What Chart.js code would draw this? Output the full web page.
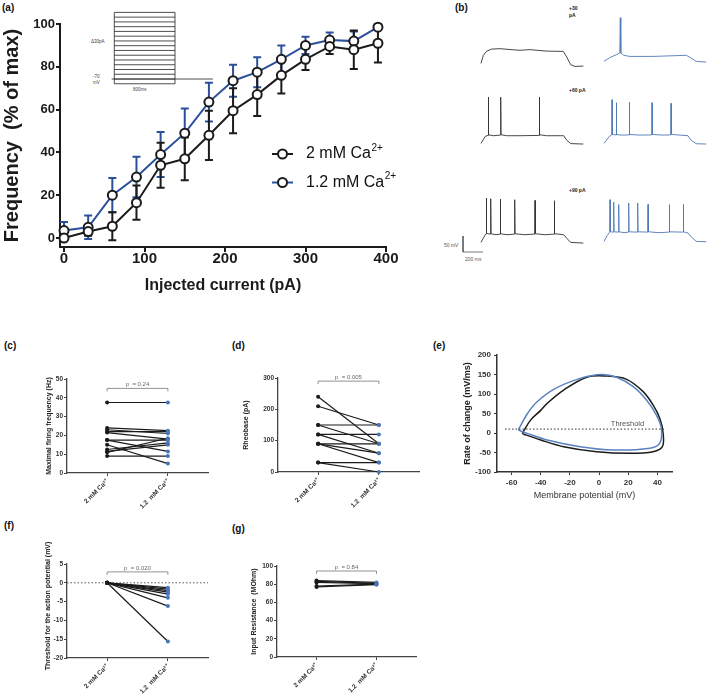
<!DOCTYPE html>
<html>
<head>
<meta charset="utf-8">
<title>Firing in 2 mM vs 1.2 mM Ca</title>
<script src="https://cdn.jsdelivr.net/npm/chart.js@4.4.1/dist/chart.umd.min.js"></script>
<style>
  html, body { margin: 0; padding: 0; background: #fff; }
  body { position: relative; width: 709px; height: 699px; overflow: hidden; font-family: "Liberation Sans", Arial, sans-serif; }
  canvas { position: absolute; }
  .txt { position: absolute; white-space: nowrap; line-height: 1; color: #333; }
  .panel { font-size: 10px; font-weight: bold; color: #111; }
  .proto { font-size: 4.5px; color: #444; }
  .step { font-size: 5px; font-weight: bold; color: #222; }
  .bar { font-size: 5px; color: #555; }
</style>
</head>
<body>
<div class="txt panel" style="left:2px;top:3px">(a)</div>
<div class="txt panel" style="left:455px;top:3px">(b)</div>
<div class="txt panel" style="left:4px;top:341px">(c)</div>
<div class="txt panel" style="left:232px;top:341px">(d)</div>
<div class="txt panel" style="left:433px;top:341px">(e)</div>
<div class="txt panel" style="left:4px;top:521px">(f)</div>
<div class="txt panel" style="left:232px;top:524px">(g)</div>

<div class="txt proto" style="left:91px;top:40px">&Delta;30pA</div>
<div class="txt proto" style="left:93px;top:75px">-70</div>
<div class="txt proto" style="left:93px;top:81px">mV</div>
<div class="txt proto" style="left:133px;top:88px">800ms</div>

<div class="txt step" style="left:569px;top:6px">+30</div>
<div class="txt step" style="left:569px;top:13px">pA</div>
<div class="txt step" style="left:569px;top:88px">+60 pA</div>
<div class="txt step" style="left:569px;top:188px">+90 pA</div>
<div class="txt bar" style="left:444px;top:243px">50 mV</div>
<div class="txt bar" style="left:465px;top:257px">200 ms</div>

<script>
// ---------- (a) firing frequency vs injected current ----------
const CURRENTS = [0, 30, 60, 90, 120, 150, 180, 210, 240, 270, 300, 330, 360, 390];
const FREQ_2MM = [0, 3, 5.5, 16.5, 34, 37, 48, 59.5, 67, 76, 83.5, 89.5, 88, 91];
const FREQ_2MM_ERR = [0, 2, 6.5, 8, 10.5, 10, 11.5, 10.5, 10, 8.5, 5, 3.5, 9, 9];
const FREQ_12MM = [3.5, 5, 20, 28.5, 39, 49, 63.5, 73.5, 77.5, 83.5, 90, 92.5, 92, 98.5];
const FREQ_12MM_ERR = [4, 5.5, 8, 9.5, 10.5, 11.5, 9, 7.5, 7, 6.5, 4, 3.5, 4.5, 1];
const SERIES_NAMES = ['2 mM Ca', '1.2 mM Ca'];
const ION_CHARGE = '2+';
const X_TICKS_A = [0, 100, 200, 300, 400];
const Y_TICKS_A = [0, 20, 40, 60, 80, 100];

// current step protocol (pA levels, ms)
const STEP_LEVELS = [-30, 0, 30, 60, 90, 120, 150, 180, 210, 240, 270, 300, 330, 360, 390, 420];
const STEP_WINDOW = [0, 800];
const HOLD_WINDOW = [-35, 1300];

// ---------- (b) example traces, [ms, mV] ----------
const TRACE_30_2MM = [[0,-70],[23,-45],[57,-31.6],[107,-25.3],[190,-24],[300,-27],[390,-29],[490,-27],[657,-31.6],[823,-32.5],[857,-50],[897,-74],[940,-79.4],[1023,-78.4]];
const TRACE_30_12MM = [[0,-70],[57,-58.3],[123,-49],[158,-44],[163,66.5],[168,-44],[197,-51],[257,-54.4],[490,-54.4],[823,-51],[863,-58],[923,-70],[1023,-72]];
const TRACE_60_2MM = [[0,-70],[43,-48],[70,-45],[73,74.7],[77,-43],[123,-46],[194,-44],[197,74.7],[201,-43],[257,-46],[390,-46],[580,-45],[583,74.7],[587,-43],[657,-46],[827,-46],[860,-61],[897,-70.6],[1023,-72]];
const TRACE_60_12MM = [[0,-70],[53,-48],[77,-43.5],[80,66.5],[84,-42],[120,-43.5],[123,57],[127,-42],[170,-44],[250,-43.5],[253,59],[257,-42],[350,-44],[477,-43.5],[480,57],[484,-42],[580,-44],[667,-43.5],[670,55],[674,-42],[760,-44],[840,-46],[873,-60.6],[923,-71],[1023,-72]];
const TRACE_90_2MM = [[0,-70],[37,-49],[50,-43],[53,68.5],[57,-42],[94,-44],[97,66.5],[101,-43],[150,-46],[190,-44],[193,65.3],[197,-43],[260,-46],[334,-44],[337,63.4],[341,-43],[440,-46],[537,-44],[540,61],[544,-43],[640,-46],[730,-44],[733,60.3],[737,-43],[827,-46],[860,-58],[897,-70],[1023,-72]];
const TRACE_90_12MM = [[0,-70],[33,-51],[57,-41],[60,60.3],[64,-40],[94,-41],[97,52.8],[101,-40],[144,-41],[147,45.6],[151,-40],[200,-42.8],[244,-41],[247,49.7],[251,-40],[334,-41],[337,49.7],[341,-40],[437,-41],[440,45.6],[444,-40],[550,-42.8],[650,-41],[653,45],[657,-40],[790,-41],[793,45.6],[797,-40],[840,-44],[873,-56],[923,-70],[1023,-71]];
const SCALE_MS = 200;
const SCALE_MV = 50;

// ---------- (c)-(g) paired recordings ----------
const CONDITIONS = ['2 mM Ca\u00b2\u207a', '1.2  mM Ca\u00b2\u207a'];
const MAX_FREQ_PAIRS = [[37.5,37.5],[24,22.5],[23,21],[22,22],[21.5,18],[17.5,17.5],[17.5,11.5],[15,5],[12.5,16],[11.5,15],[11,18.5],[9,9]];
const RHEOBASE_PAIRS = [[240,90],[210,150],[150,150],[150,90],[120,120],[120,60],[90,90],[90,60],[90,30],[30,30],[30,0]];
const THRESHOLD_PAIRS = [[0,-1.3],[0,-1.7],[0,-2.1],[0,-2.5],[0,-3],[0,-4],[0,-6.2],[0,-15.6]];
const RESISTANCE_PAIRS = [[84,82],[83,81],[82,80.5],[78,80],[77,79.5]];
const P_VALUES = ['p  = 0.24', 'p  = 0.005', 'p  = 0.020', 'p  = 0.84'];

// phase plot (e): membrane potential (mV) vs dV/dt (mV/ms)
const PHASE_V_2MM = [-52.7,-47,-40,-35.6,-24.3,-8.4,5.2,18.9,30.2,37,41.6,43.9,43.4,37,21,-1.6,-24.3,-40,-51.6,-52.7];
const PHASE_DVDT_2MM = [-1,33,58,76,110,143,146,137.6,106,72,37.6,0,-35,-48,-52,-48,-35,-18,-3,-1];
const PHASE_V_12MM = [-55.4,-49.3,-42.5,-31.1,-13,1.8,12,23.4,32.5,39.3,42.7,41.6,34.8,9.8,-13,-35.6,-49.3,-55.4];
const PHASE_DVDT_12MM = [7.7,48.7,80,112,140,150,143,119,84.6,46,12,-26,-39,-43.6,-35,-18,-1,7.7];
const THRESHOLD_LEVEL = 10;
const THRESHOLD_SPAN = [-64.5, 46];

const FONT = '"Liberation Sans", Arial, sans-serif';
const BLACK = '#1b1b1b';
const BLUE = '#2c4f9c';
const TRACE_BLACK = '#333';
const TRACE_BLUE = '#5079b8';
const DOT_BLUE = '#4a74b8';
const AXIS_GREY = '#444';

Chart.defaults.font.family = FONT;

function makeCanvas(left, top, w, h) {
    const c = document.createElement('canvas');
    c.width = w;
    c.height = h;
    c.style.left = left + 'px';
    c.style.top = top + 'px';
    c.style.width = w + 'px';
    c.style.height = h + 'px';
    document.body.appendChild(c);
    return c;
}

function base(padding) {
    return {
        responsive: false,
        animation: false,
        devicePixelRatio: 1,
        events: [],
        layout: { padding, autoPadding: false },
    };
}

const fixedTicks = list => scale => { scale.ticks = list.map(value => ({ value })); };

// error bars for (a), drawn under the markers
const errorBars = {
    id: 'errorBars',
    beforeDatasetsDraw(chart) {
        const { ctx, scales: { x, y } } = chart;
        for (const ds of [...chart.data.datasets].reverse()) {
            if (!ds.errors) continue;
            ctx.save();
            ctx.strokeStyle = ds.borderColor;
            ctx.lineWidth = 2;
            ds.data.forEach((p, i) => {
                const e = ds.errors[i];
                if (!e) return;
                const px = x.getPixelForValue(p.x);
                const top = y.getPixelForValue(p.y + e);
                const bot = y.getPixelForValue(p.y - e);
                ctx.beginPath();
                ctx.moveTo(px, top); ctx.lineTo(px, bot);
                ctx.moveTo(px - 4, top); ctx.lineTo(px + 4, top);
                ctx.moveTo(px - 4, bot); ctx.lineTo(px + 4, bot);
                ctx.stroke();
            });
            ctx.restore();
        }
    }
};

// legend of (a) with superscript charge
const curveLegend = {
    id: 'curveLegend',
    afterDraw(chart) {
        const ctx = chart.ctx;
        chart.data.datasets.forEach((ds, i) => {
            const y = 154 + i * 28.5;
            ctx.save();
            ctx.lineWidth = 2;
            ctx.strokeStyle = ds.borderColor;
            ctx.beginPath(); ctx.moveTo(272, y); ctx.lineTo(293, y); ctx.stroke();
            ctx.beginPath(); ctx.arc(282.5, y, 4.5, 0, Math.PI * 2);
            ctx.fillStyle = '#fff'; ctx.fill();
            ctx.strokeStyle = BLACK; ctx.stroke();
            ctx.fillStyle = '#111';
            ctx.textBaseline = 'middle';
            ctx.font = '16px ' + FONT;
            ctx.fillText(ds.label, 306, y);
            const w = ctx.measureText(ds.label).width;
            ctx.font = '10px ' + FONT;
            ctx.fillText(ION_CHARGE, 306 + w + 0.5, y - 6);
            ctx.restore();
        });
    }
};

// p-value bracket between the two conditions
const pBracket = {
    id: 'pBracket',
    afterDraw(chart, args, opts) {
        if (!opts.text) return;
        const { ctx, scales: { x, y } } = chart;
        const x0 = x.getPixelForValue(0), x1 = x.getPixelForValue(1), yy = y.getPixelForValue(opts.at);
        ctx.save();
        ctx.strokeStyle = '#777';
        ctx.lineWidth = 0.8;
        ctx.beginPath();
        ctx.moveTo(x0, yy + 3); ctx.lineTo(x0, yy); ctx.lineTo(x1, yy); ctx.lineTo(x1, yy + 3);
        ctx.stroke();
        ctx.fillStyle = '#666';
        ctx.font = '6px ' + FONT;
        ctx.textAlign = 'center';
        ctx.textBaseline = 'bottom';
        ctx.fillText(opts.text, (x0 + x1) / 2, yy - 1);
        ctx.restore();
    }
};

// rotated y title that is not squeezed to the axis height
const yTitle = {
    id: 'yTitle',
    afterDraw(chart, args, opts) {
        if (!opts.text) return;
        const { ctx, chartArea } = chart;
        ctx.save();
        ctx.translate(opts.x, (chartArea.top + chartArea.bottom) / 2 + (opts.shift || 0));
        ctx.rotate(-Math.PI / 2);
        ctx.fillStyle = '#222';
        ctx.font = 'bold 7px ' + FONT;
        ctx.textAlign = 'center';
        ctx.textBaseline = 'middle';
        ctx.fillText(opts.text, 0, 0);
        ctx.restore();
    }
};

// dotted horizontal reference line
const refLine = {
    id: 'refLine',
    beforeDatasetsDraw(chart, args, opts) {
        if (opts.value === undefined) return;
        const { ctx, chartArea, scales: { y } } = chart;
        const yy = y.getPixelForValue(opts.value);
        ctx.save();
        ctx.strokeStyle = '#555';
        ctx.lineWidth = 1;
        ctx.setLineDash([1.5, 2]);
        ctx.beginPath(); ctx.moveTo(chartArea.left, yy); ctx.lineTo(chartArea.right, yy); ctx.stroke();
        ctx.restore();
    }
};

// small text note placed at data coordinates
const note = {
    id: 'note',
    afterDraw(chart, args, opts) {
        if (!opts.text) return;
        const { ctx, scales: { x, y } } = chart;
        ctx.save();
        ctx.fillStyle = '#555';
        ctx.font = '7.5px ' + FONT;
        ctx.textAlign = 'center';
        ctx.textBaseline = 'bottom';
        ctx.fillText(opts.text, x.getPixelForValue(opts.x), y.getPixelForValue(opts.y) - 1);
        ctx.restore();
    }
};

function curve(values, errors, colour, label) {
    return {
        label,
        data: CURRENTS.map((x, i) => ({ x, y: values[i] })),
        errors,
        borderColor: colour,
        borderWidth: 2,
        pointRadius: 4.5,
        pointBorderWidth: 2,
        pointBorderColor: BLACK,
        pointBackgroundColor: '#fff',
        tension: 0,
        clip: false,
    };
}

// ---------- (a) ----------
new Chart(makeCanvas(0, 0, 420, 300), {
    type: 'line',
    data: {
        datasets: [
            curve(FREQ_2MM, FREQ_2MM_ERR, BLACK, SERIES_NAMES[0]),
            curve(FREQ_12MM, FREQ_12MM_ERR, BLUE, SERIES_NAMES[1]),
        ]
    },
    options: {
        ...base({ top: 24, right: 34, left: 0, bottom: 0 }),
        plugins: { legend: { display: false }, tooltip: { enabled: false } },
        scales: {
            x: {
                type: 'linear', min: -5, max: 400,
                afterBuildTicks: fixedTicks(X_TICKS_A),
                afterFit: s => { s.height = 53; },
                border: { color: BLACK, width: 2 },
                grid: { drawOnChartArea: false, color: BLACK, lineWidth: 2, tickLength: 5 },
                ticks: { color: BLACK, padding: -2, maxRotation: 0, font: { size: 15, weight: 'bold' } },
                title: { display: true, text: 'Injected current (pA)', color: BLACK, font: { size: 16, weight: 'bold' }, padding: { top: 0, bottom: 5 } }
            },
            y: {
                type: 'linear', min: -4.2, max: 100,
                afterBuildTicks: fixedTicks(Y_TICKS_A),
                afterFit: s => { s.width = 60; },
                border: { color: BLACK, width: 2 },
                grid: { drawOnChartArea: false, color: BLACK, lineWidth: 2, tickLength: 4 },
                ticks: { color: BLACK, padding: 1, font: { size: 13, weight: 'bold' } },
                title: { display: true, text: 'Frequency  (% of max)', color: BLACK, font: { size: 20, weight: 'bold' }, padding: { top: 0, bottom: 0 } }
            }
        }
    },
    plugins: [errorBars, curveLegend]
});

// protocol inset
const TOP_LEVEL = STEP_LEVELS[STEP_LEVELS.length - 1];
const insetSets = STEP_LEVELS.map(level => ({ data: [{ x: STEP_WINDOW[0], y: level }, { x: STEP_WINDOW[1], y: level }] }));
STEP_WINDOW.forEach(t => insetSets.push({ data: [{ x: t, y: STEP_LEVELS[0] }, { x: t, y: TOP_LEVEL }] }));
insetSets.push({ data: [{ x: HOLD_WINDOW[0], y: 0 }, { x: HOLD_WINDOW[1], y: 0 }] });
new Chart(makeCanvas(111, 10, 104, 76), {
    type: 'scatter',
    data: { datasets: insetSets.map(d => ({ ...d, showLine: true, borderColor: '#222', borderWidth: 0.8, pointRadius: 0 })) },
    options: {
        ...base(0),
        plugins: { legend: { display: false }, tooltip: { enabled: false } },
        scales: {
            x: { type: 'linear', display: false, min: -43.5, max: 1327 },
            y: { type: 'linear', display: false, min: -44, max: 435 }
        }
    }
});

// ---------- (b) traces ----------
function traceChart(points, colour, left, top) {
    new Chart(makeCanvas(left, top, 108, 60), {
        type: 'scatter',
        data: { datasets: [{ data: points.map(([x, y]) => ({ x, y })), showLine: true, borderColor: colour, borderWidth: 0.9, pointRadius: 0, tension: 0 }] },
        options: {
            ...base(0),
            plugins: { legend: { display: false }, tooltip: { enabled: false } },
            scales: {
                x: { type: 'linear', display: false, min: -20, max: 1060 },
                y: { type: 'linear', display: false, min: -100, max: 87.5 }
            }
        }
    });
}
traceChart(TRACE_30_2MM, TRACE_BLACK, 479, 13);
traceChart(TRACE_30_12MM, TRACE_BLUE, 602, 11);
traceChart(TRACE_60_2MM, TRACE_BLACK, 479, 93);
traceChart(TRACE_60_12MM, TRACE_BLUE, 602, 93);
traceChart(TRACE_90_2MM, TRACE_BLACK, 479, 192);
traceChart(TRACE_90_12MM, TRACE_BLUE, 602, 191);

// scale bar
new Chart(makeCanvas(462, 235, 24, 19), {
    type: 'scatter',
    data: { datasets: [{ data: [{ x: 0, y: SCALE_MV }, { x: 0, y: 0 }, { x: SCALE_MS, y: 0 }], showLine: true, borderColor: '#555', borderWidth: 0.8, pointRadius: 0 }] },
    options: {
        ...base(0),
        plugins: { legend: { display: false }, tooltip: { enabled: false } },
        scales: {
            x: { type: 'linear', display: false, min: -10, max: 230 },
            y: { type: 'linear', display: false, min: -6.25, max: 53.125 }
        }
    }
});

// ---------- (c), (d), (f), (g) ----------
function pairedChart(p) {
    return new Chart(makeCanvas(p.left, p.top, p.width, p.height), {
        type: 'line',
        data: {
            datasets: p.pairs.map(pair => ({
                data: [{ x: 0, y: pair[0] }, { x: 1, y: pair[1] }],
                borderColor: BLACK,
                borderWidth: 1.2,
                pointRadius: 2,
                pointBorderWidth: 0,
                pointBackgroundColor: [BLACK, DOT_BLUE],
                clip: false,
            }))
        },
        options: {
            ...base(p.padding),
            plugins: {
                legend: { display: false },
                tooltip: { enabled: false },
                pBracket: { text: p.pText, at: p.pAt },
                yTitle: { text: p.title, x: p.titleX, shift: p.titleShift || 0 },
                refLine: { value: p.refValue },
            },
            scales: {
                x: {
                    type: 'linear', min: -0.66, max: 1.66,
                    afterBuildTicks: fixedTicks([0, 1]),
                    afterFit: s => { s.height = p.xHeight; },
                    border: { color: AXIS_GREY, width: 1.3 },
                    grid: { drawOnChartArea: false, color: AXIS_GREY, lineWidth: 1, tickLength: 3 },
                    ticks: { callback: v => CONDITIONS[v], autoSkip: false, minRotation: 45, maxRotation: 45, padding: 2, color: '#333', font: { size: 6.5, weight: 'bold' } }
                },
                y: {
                    type: 'linear', min: p.yTicks[0], max: p.yTicks[p.yTicks.length - 1],
                    afterBuildTicks: fixedTicks(p.yTicks),
                    afterFit: s => { s.width = p.yWidth; },
                    border: { color: AXIS_GREY, width: 1.3 },
                    grid: { drawOnChartArea: false, color: AXIS_GREY, lineWidth: 1, tickLength: 3 },
                    ticks: { padding: 1, color: '#333', font: { size: 6.5, weight: 'bold' } }
                }
            }
        },
        plugins: [refLine, pBracket, yTitle]
    });
}

pairedChart({
    left: 0, top: 360, width: 230, height: 150,
    padding: { top: 19, right: 22, left: 0, bottom: 0 }, yWidth: 67, xHeight: 37,
    pairs: MAX_FREQ_PAIRS, yTicks: [0, 10, 20, 30, 40, 50],
    title: 'Maximal firing frequency (Hz)', titleX: 49,
    pText: P_VALUES[0], pAt: 45
});

pairedChart({
    left: 230, top: 360, width: 230, height: 150,
    padding: { top: 18, right: 41, left: 0, bottom: 0 }, yWidth: 48, xHeight: 38,
    pairs: RHEOBASE_PAIRS, yTicks: [0, 100, 200, 300],
    title: 'Rheobase (pA)', titleX: 16,
    pText: P_VALUES[1], pAt: 290
});

pairedChart({
    left: 0, top: 540, width: 230, height: 159,
    padding: { top: 24, right: 22, left: 0, bottom: 0 }, yWidth: 67, xHeight: 41,
    pairs: THRESHOLD_PAIRS, yTicks: [-20, -15, -10, -5, 0, 5],
    title: 'Threshold for the action potential (mV)', titleX: 48, titleShift: -5,
    pText: P_VALUES[2], pAt: 2.9, refValue: 0
});

pairedChart({
    left: 230, top: 540, width: 230, height: 159,
    padding: { top: 26, right: 44, left: 0, bottom: 0 }, yWidth: 47, xHeight: 42,
    pairs: RESISTANCE_PAIRS, yTicks: [0, 20, 40, 60, 80, 100],
    title: 'Input Resistance  (MOhm)', titleX: 24,
    pText: P_VALUES[3], pAt: 94.5
});

// ---------- (e) phase plot ----------
function loop(vs, dvdt, colour) {
    return {
        data: vs.map((x, i) => ({ x, y: dvdt[i] })),
        showLine: true, borderColor: colour, borderWidth: 1.5, pointRadius: 0, tension: 0.35,
    };
}

new Chart(makeCanvas(440, 340, 269, 170), {
    type: 'scatter',
    data: {
        datasets: [
            { data: THRESHOLD_SPAN.map(x => ({ x, y: THRESHOLD_LEVEL })), showLine: true, borderColor: '#333', borderWidth: 1, borderDash: [1.5, 2], pointRadius: 0 },
            loop(PHASE_V_12MM, PHASE_DVDT_12MM, '#5a82c0'),
            loop(PHASE_V_2MM, PHASE_DVDT_2MM, BLACK),
        ]
    },
    options: {
        ...base({ top: 15, right: 37, left: 0, bottom: 0 }),
        plugins: {
            legend: { display: false }, tooltip: { enabled: false },
            note: { text: 'Threshold', x: 19.5, y: THRESHOLD_LEVEL },
        },
        scales: {
            x: {
                type: 'linear', min: -70, max: 50,
                afterBuildTicks: fixedTicks([-60, -40, -20, 0, 20, 40]),
                afterFit: s => { s.height = 38; },
                border: { color: '#333', width: 1.5 },
                grid: { drawOnChartArea: false, color: '#333', lineWidth: 1, tickLength: 3 },
                ticks: { color: '#333', padding: 3, maxRotation: 0, font: { size: 8, weight: 'bold' } },
                title: { display: true, text: 'Membrane potential (mV)', color: '#333', font: { size: 9 }, padding: { top: 0, bottom: 8.6 } }
            },
            y: {
                type: 'linear', min: -100, max: 200,
                afterBuildTicks: fixedTicks([-100, -50, 0, 50, 100, 150, 200]),
                afterFit: s => { s.width = 57; },
                border: { color: '#333', width: 1.5 },
                grid: { drawOnChartArea: false, color: '#333', lineWidth: 1, tickLength: 3 },
                ticks: { color: '#333', padding: 3, font: { size: 8, weight: 'bold' } },
                title: { display: true, text: 'Rate of change (mV/ms)', color: '#222', font: { size: 9, weight: 'bold' }, padding: { top: 22.6, bottom: 0 } }
            }
        }
    },
    plugins: [note]
});
</script>
</body>
</html>
